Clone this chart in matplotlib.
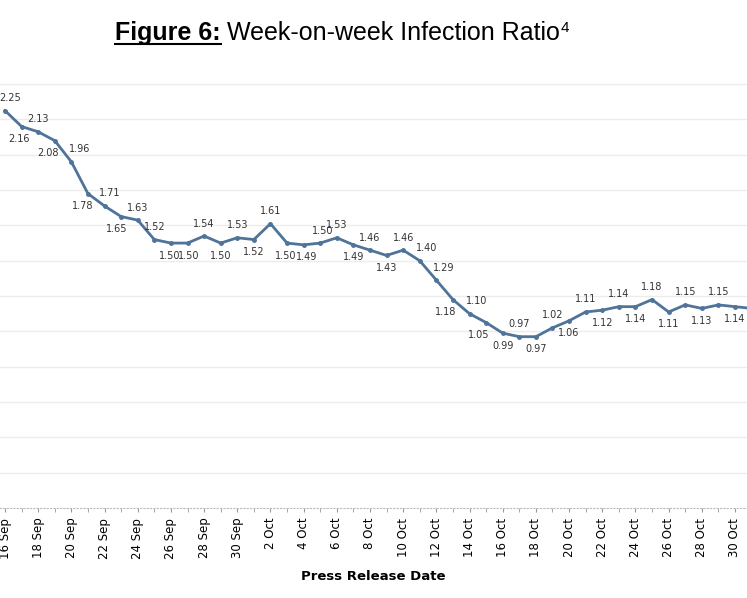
import datetime
import matplotlib
matplotlib.use("Agg")
import matplotlib.pyplot as plt
import matplotlib.dates as mdates
from matplotlib.lines import Line2D

# daily values from 16 Sep to 31 Oct
start = datetime.date(2020, 9, 16)
ratio = [2.25, 2.16, 2.13, 2.08, 1.96, 1.78, 1.71, 1.65, 1.63, 1.52,
         1.50, 1.50, 1.54, 1.50, 1.53, 1.52, 1.61, 1.50, 1.49, 1.50,
         1.53, 1.49, 1.46, 1.43, 1.46, 1.40, 1.29, 1.18, 1.10, 1.05,
         0.99, 0.97, 0.97, 1.02, 1.06, 1.11, 1.12, 1.14, 1.14, 1.18,
         1.11, 1.15, 1.13, 1.15, 1.14, 1.13]
# label placement: 1 above, -1 below, 0 none
side = [1, -1, 1, -1, 1, -1, 1, -1, 1, 1,
        -1, -1, 1, -1, 1, -1, 1, -1, -1, 1,
        1, -1, 1, -1, 1, 1, 1, -1, 1, -1,
        -1, 1, -1, 1, -1, 1, -1, 1, -1, 1,
        -1, 1, -1, 1, -1, 0]
# small horizontal nudges for crowded labels (points)
nudge = {0: 4, 1: -2, 3: -5, 4: 6, 5: -4, 6: 4, 7: -3, 10: -1, 11: 1,
         17: -1, 18: 2, 19: 2, 25: 5, 26: 5, 27: -5, 28: 5, 29: -5}
dates = [start + datetime.timedelta(days=i) for i in range(len(ratio))]

fig = plt.figure(figsize=(7.47, 5.98), dpi=100)
ax = fig.add_axes([0, 1 - 508 / 598, 1, (508 - 70) / 598])

ax.plot(dates, ratio, color="#4f7399", lw=2, marker="o", ms=2.5, zorder=3)
for i, (d, v, s) in enumerate(zip(dates, ratio, side)):
    if s == 0:
        continue
    ax.annotate(f"{v:.2f}", (d, v), xytext=(nudge.get(i, 0), 9 * s), textcoords="offset points",
                ha="center", va="center", fontsize=7, color="#333333")

px = 16.59
x0 = mdates.date2num(start)
ax.set_xlim(x0 - 5 / px, x0 + 44 + 12 / px)
ax.set_ylim(0, 2.48)
ax.set_yticks([0.2 * i for i in range(1, 13)])
ax.yaxis.grid(True, color="#ececec", lw=1)
ax.tick_params(axis="y", left=False, labelleft=False)

ax.xaxis.set_major_locator(mdates.DayLocator(bymonthday=[16, 18, 20, 22, 24, 26, 28, 30, 2, 4, 6, 8, 10, 12, 14]))
ax.xaxis.set_minor_locator(mdates.DayLocator())
ax.xaxis.set_major_formatter(mdates.DateFormatter("%-d %b"))
ax.tick_params(axis="x", which="both", length=3, color="#999999", labelsize=8.5, rotation=90, pad=4)
for sp in ["top", "right", "left"]:
    ax.spines[sp].set_visible(False)
ax.spines["bottom"].set_color("#bbbbbb")
ax.spines["bottom"].set_linestyle((0, (1, 2)))
ax.set_xlabel("Press Release Date", fontsize=9.5, fontweight="bold", labelpad=8)

# title with underlined bold prefix
t1 = fig.text(115 / 747, 1 - 33 / 598, "Figure 6:", fontsize=18, fontweight="bold",
              family="Liberation Sans", va="center")
fig.canvas.draw()
bb = t1.get_window_extent().transformed(fig.transFigure.inverted())
t2 = fig.text(bb.x1 + 0.008, 1 - 33 / 598, "Week-on-week Infection Ratio", fontsize=18,
              family="Liberation Sans", va="center")
fig.canvas.draw()
bb2 = t2.get_window_extent().transformed(fig.transFigure.inverted())
fig.text(bb2.x1 + 0.002, bb2.y1 - 0.012, "4", fontsize=11, family="Liberation Sans", va="center")
fig.add_artist(Line2D([bb.x0, bb.x1], [bb.y0 + 0.002, bb.y0 + 0.002], color="black",
                      lw=1.5, transform=fig.transFigure))

fig.savefig("out.png", dpi=100)
